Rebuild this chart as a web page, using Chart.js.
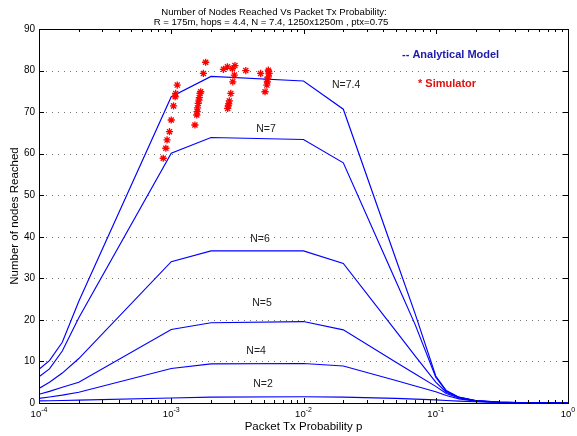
<!DOCTYPE html>
<html>
<head>
<meta charset="utf-8">
<script src="https://cdn.jsdelivr.net/npm/chart.js@4.4.0/dist/chart.umd.min.js"></script>
<style>
  html, body { margin: 0; padding: 0; background: #fff; }
  #chart { display: block; }
</style>
</head>
<body>
<canvas id="chart" width="577" height="436"></canvas>
<script>
// analytical model, one row per N
const probs = [1e-4, 1.2e-4, 1.5e-4, 2e-4, 1e-3, 2e-3, 1e-2, 2e-2, 0.05, 0.07, 0.1, 0.12, 0.15, 0.2, 0.3, 0.5, 1];
const nodesN74 = [8.1, 10.2, 14.6, 24.5, 73.7, 78.6, 77.5, 70.7, 34.6, 21.4, 6.5, 3.0, 1.4, 0.6, 0.2, 0.05, 0];
const nodesN7 = [6.3, 8.2, 12.5, 20.5, 60.1, 63.9, 63.4, 57.8, 29.3, 18.8, 6.2, 2.9, 1.35, 0.6, 0.2, 0.05, 0];
const nodesN6 = [3.5, 5.0, 7.2, 10.7, 34.0, 36.6, 36.6, 33.6, 17.3, 11.3, 5.0, 2.6, 1.3, 0.55, 0.18, 0.04, 0];
const nodesN5 = [2.1, 2.8, 3.8, 5.0, 17.7, 19.3, 19.6, 17.6, 9.8, 7.0, 4.0, 2.3, 1.2, 0.5, 0.16, 0.04, 0];
const nodesN4 = [1.1, 1.45, 1.9, 2.6, 8.3, 9.4, 9.5, 8.9, 5.4, 4.1, 2.7, 1.8, 1.0, 0.45, 0.14, 0.03, 0];
const nodesN2 = [0.5, 0.55, 0.6, 0.7, 1.2, 1.4, 1.5, 1.4, 1.1, 0.95, 0.75, 0.6, 0.45, 0.3, 0.15, 0.05, 0];

// simulator runs
const simProbs = [8.7e-4, 9.1e-4, 9.3e-4, 9.7e-4, 1.0e-3, 1.04e-3, 1.07e-3, 1.08e-3, 1.11e-3,
  1.51e-3, 1.56e-3, 1.57e-3, 1.58e-3, 1.60e-3, 1.62e-3, 1.63e-3, 1.65e-3, 1.67e-3, 1.75e-3, 1.82e-3,
  2.48e-3, 2.66e-3, 2.67e-3, 2.70e-3, 2.72e-3, 2.75e-3, 2.82e-3, 2.92e-3, 2.9e-3, 3.0e-3, 3.03e-3, 3.66e-3,
  4.74e-3, 5.12e-3, 5.28e-3, 5.3e-3, 5.33e-3, 5.42e-3, 5.42e-3, 5.45e-3, 5.5e-3];
const simNodes = [58.9, 61.3, 63.3, 65.3, 68.1, 71.5, 73.7, 74.5, 76.5,
  66.9, 69.3, 70.1, 71.0, 72.1, 72.9, 73.5, 74.5, 74.9, 79.3, 82.0,
  80.3, 80.9, 70.9, 71.5, 72.0, 72.7, 74.5, 77.3, 80.5, 78.9, 81.2, 80.0,
  79.3, 74.9, 76.5, 77.8, 77.3, 78.5, 80.1, 79.8, 79.3];

const curveLabels = ['N=7.4', 'N=7', 'N=6', 'N=5', 'N=4', 'N=2'];
const curveLabelProbs = [0.021, 5.2e-3, 4.69e-3, 4.85e-3, 4.38e-3, 4.94e-3];
const curveLabelNodes = [76.5, 65.9, 39.5, 24.1, 12.5, 4.6];

const xTickValues = [1e-4, 1e-3, 1e-2, 1e-1, 1];
const xTickExponents = ['-4', '-3', '-2', '-1', '0'];

const titleLines = ['Number of Nodes Reached Vs Packet Tx Probability:',
  'R = 175m, hops = 4.4, N = 7.4, 1250x1250m , ptx=0.75'];

const FONT = '"Liberation Sans", Arial, Helvetica, sans-serif';

function toPoints(xs, ys) {
  return xs.map((p, i) => ({ x: p, y: ys[i] }));
}

function modelLine(values) {
  return {
    data: toPoints(probs, values),
    borderColor: '#0000ff',
    borderWidth: 1.15,
    pointRadius: 0,
    tension: 0,
    fill: false,
    order: 1
  };
}

// dotted horizontal grid, MATLAB style
const dottedGrid = {
  id: 'dottedGrid',
  beforeDatasetsDraw(chart) {
    const { ctx, chartArea: a, scales: { y } } = chart;
    ctx.save();
    ctx.strokeStyle = '#777';
    ctx.lineWidth = 1;
    ctx.setLineDash([1, 5]);
    ctx.beginPath();
    y.ticks.forEach(t => {
      const py = Math.round(y.getPixelForValue(t.value)) + 0.5;
      ctx.moveTo(a.left + 1, py);
      ctx.lineTo(a.right, py);
    });
    ctx.stroke();
    ctx.restore();
  }
};

const frame = {
  id: 'frame',
  afterDraw(chart) {
    const { ctx, chartArea: a, scales: { x, y } } = chart;
    ctx.save();
    ctx.strokeStyle = '#000';
    ctx.lineWidth = 1;
    ctx.strokeRect(a.left + 0.5, a.top + 0.5, a.right - a.left, a.bottom - a.top);

    // log ticks, top and bottom, pointing in
    ctx.beginPath();
    for (let d = 0; d < xTickValues.length; d++) {
      const base = xTickValues[d];
      const last = d === xTickValues.length - 1 ? 1 : 9;
      for (let k = 1; k <= last; k++) {
        const px = Math.round(x.getPixelForValue(base * k)) + 0.5;
        const len = k === 1 ? 5 : 3;
        ctx.moveTo(px, a.bottom);
        ctx.lineTo(px, a.bottom - len);
        ctx.moveTo(px, a.top);
        ctx.lineTo(px, a.top + len);
      }
    }
    y.ticks.forEach(t => {
      const py = Math.round(y.getPixelForValue(t.value)) + 0.5;
      ctx.moveTo(a.left, py);
      ctx.lineTo(a.left + 5, py);
      ctx.moveTo(a.right, py);
      ctx.lineTo(a.right - 5, py);
    });
    ctx.stroke();

    // 10^n labels
    ctx.fillStyle = '#000';
    ctx.textBaseline = 'alphabetic';
    ctx.textAlign = 'left';
    xTickValues.forEach((v, i) => {
      const px = x.getPixelForValue(v);
      ctx.font = '9.5px ' + FONT;
      const wb = ctx.measureText('10').width;
      ctx.font = '7px ' + FONT;
      const we = ctx.measureText(xTickExponents[i]).width;
      const start = px - (wb + we) / 2;
      ctx.font = '9.5px ' + FONT;
      ctx.fillText('10', start, a.bottom + 14);
      ctx.font = '7px ' + FONT;
      ctx.fillText(xTickExponents[i], start + wb, a.bottom + 9);
    });

    // title
    ctx.textAlign = 'center';
    ctx.textBaseline = 'middle';
    ctx.font = '9.6px ' + FONT;
    ctx.fillText(titleLines[0], 274, 12.5);
    ctx.fillText(titleLines[1], 271, 22.5);

    // curve labels
    ctx.fillStyle = '#222';
    ctx.font = '10.5px ' + FONT;
    curveLabels.forEach((s, i) => {
      ctx.fillText(s, x.getPixelForValue(curveLabelProbs[i]), y.getPixelForValue(curveLabelNodes[i]));
    });

    // legend text
    ctx.textAlign = 'left';
    ctx.font = 'bold 11px ' + FONT;
    ctx.fillStyle = '#1c1ca8';
    ctx.fillText('-- Analytical Model', 402, 55);
    ctx.fillStyle = '#dd1111';
    ctx.fillText('* Simulator', 418, 84);
    ctx.restore();
  }
};

new Chart(document.getElementById('chart'), {
  type: 'line',
  data: {
    datasets: [
      modelLine(nodesN74),
      modelLine(nodesN7),
      modelLine(nodesN6),
      modelLine(nodesN5),
      modelLine(nodesN4),
      modelLine(nodesN2),
      {
        type: 'scatter',
        data: toPoints(simProbs, simNodes),
        showLine: false,
        pointStyle: 'star',
        pointRadius: 3.6,
        borderColor: '#ff0000',
        backgroundColor: '#ff0000',
        borderWidth: 1.3,
        order: 0
      }
    ]
  },
  options: {
    responsive: false,
    animation: false,
    layout: { padding: { left: 0, right: 9, top: 29, bottom: 0 } },
    plugins: {
      legend: { display: false },
      tooltip: { enabled: false },
      title: { display: false }
    },
    scales: {
      x: {
        type: 'logarithmic',
        min: 1e-4,
        max: 1,
        grid: { display: false, drawTicks: false },
        border: { display: false },
        ticks: { display: false },
        afterFit(scale) { scale.height = 33; },
        title: {
          display: true,
          text: 'Packet Tx Probability p',
          color: '#000',
          font: { family: FONT, size: 11.5 },
          padding: { top: 0, bottom: 2 }
        }
      },
      y: {
        min: 0,
        max: 90,
        ticks: {
          stepSize: 10,
          color: '#000',
          padding: 4,
          font: { family: FONT, size: 10 }
        },
        grid: { display: false, drawTicks: false },
        border: { display: false },
        afterFit(scale) { scale.width = 39; },
        title: {
          display: true,
          text: 'Number of nodes Reached',
          color: '#000',
          font: { family: FONT, size: 11.5 },
          padding: { top: 8, bottom: 0 }
        }
      }
    }
  },
  plugins: [dottedGrid, frame]
});
</script>
</body>
</html>
